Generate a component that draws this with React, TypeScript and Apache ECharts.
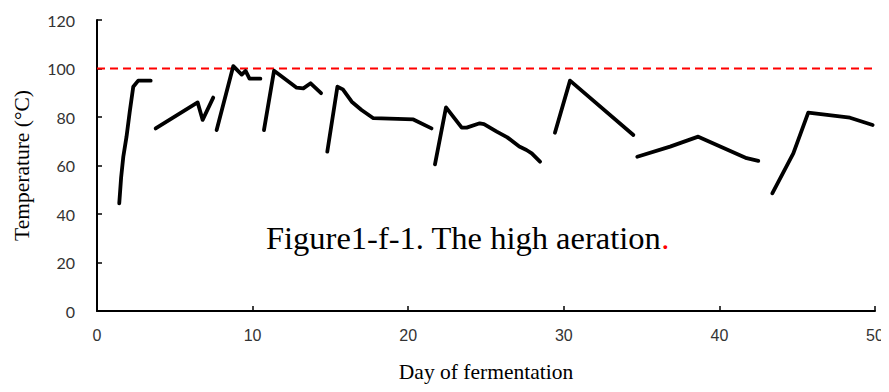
import React, { useEffect, useRef } from "react";
import * as echarts from "echarts";

const xTicks = [0, 10, 20, 30, 40, 50];
const yTicks = [0, 20, 40, 60, 80, 100, 120];
const limitTemp = 100;

const segment1 = [[1.43, 44.4], [1.55, 55], [1.69, 63.6], [1.9, 72], [2.1, 82], [2.33, 92.5], [2.65, 95], [3.45, 95]];
const segment2 = [[3.77, 75.3], [6.47, 86], [6.79, 78.8], [7.47, 88]];
const segment3 = [[7.69, 74.6], [8.76, 101], [9.3, 97.5], [9.55, 99], [9.8, 95.8], [10.5, 95.8]];
const segment4 = [[10.73, 74.6], [11.38, 99.1], [12.45, 93.9], [12.83, 92.1], [13.26, 91.8], [13.73, 93.9], [14.4, 89.8]];
const segment5 = [[14.8, 65.7], [15.45, 92.5], [15.8, 91.4], [16.37, 86.3], [17.0, 82.9], [17.76, 79.5], [20.33, 79.0], [21.5, 75.3]];
const segment6 = [[21.72, 60.5], [22.43, 84], [23.44, 75.6], [23.76, 75.6], [24.6, 77.4], [24.87, 77.1], [25.69, 74], [26.37, 71.6], [27.14, 67.8], [27.6, 66.4], [27.94, 65], [28.47, 61.6]];
const segment7 = [[29.43, 73.5], [30.4, 95], [34.47, 72.6]];
const segment8 = [[34.72, 63.6], [36.83, 67.8], [38.64, 71.9], [41.75, 63], [42.5, 61.9]];
const segment9 = [[43.4, 48.5], [44.75, 65], [45.71, 81.8], [48.39, 79.7], [49.85, 76.7]];

const segments = [segment1, segment2, segment3, segment4, segment5, segment6, segment7, segment8, segment9];
const limitLine = [[0, limitTemp], [50, limitTemp]];

export default function App() {
  const ref = useRef<HTMLDivElement>(null);
  useEffect(() => {
    if (!ref.current) return;
    const chart = echarts.init(ref.current, null, { renderer: "svg" });
    const series: any[] = segments.map((seg, i) => ({
      type: "line",
      name: "seg" + (i + 1),
      data: seg,
      showSymbol: false,
      symbol: "none",
      lineStyle: { color: "#000", width: 3.8, join: "round", cap: "round" },
      z: 3,
    }));
    series.push({
      type: "line",
      name: "limit",
      data: limitLine,
      symbol: "none",
      lineStyle: { color: "#ff0000", width: 2, type: [8, 5] },
      z: 2,
    });
    chart.setOption({
      animation: false,
      backgroundColor: "#fff",
      grid: { left: 97, top: 20, width: 778, height: 291, containLabel: false },
      xAxis: {
        type: "value",
        min: 0,
        max: 50,
        interval: 10,
        name: "Day of fermentation",
        nameLocation: "middle",
        nameGap: 50,
        nameTextStyle: { fontFamily: "Liberation Serif", fontSize: 21.5, color: "#000" },
        axisLine: { show: true, lineStyle: { color: "#000", width: 2 } },
        axisTick: { show: true, inside: true, length: 5, lineStyle: { color: "#000", width: 1.5 } },
        axisLabel: { margin: 16, fontFamily: "Liberation Sans Narrow, Liberation Sans", fontSize: 16, color: "#333" },
        splitLine: { show: false },
      },
      yAxis: {
        type: "value",
        min: 0,
        max: 120,
        interval: 20,
        name: "Temperature (°C)",
        nameLocation: "middle",
        nameGap: 64,
        nameTextStyle: { fontFamily: "Liberation Serif", fontSize: 21.5, color: "#000" },
        axisLine: { show: true, lineStyle: { color: "#000", width: 2 } },
        axisTick: { show: true, inside: true, length: 5, lineStyle: { color: "#000", width: 1.5 } },
        axisLabel: { margin: 22, fontFamily: "Lato", fontSize: 16, color: "#333" },
        splitLine: { show: false },
      },
      graphic: [
        {
          type: "text",
          left: 266,
          top: 221,
          style: {
            text: "{a|Figure1-f-1. The high aeration}{b|.}",
            rich: {
              a: { fontFamily: "Liberation Serif", fontSize: 32.5, fill: "#000" },
              b: { fontFamily: "Liberation Serif", fontSize: 32.5, fill: "#ff0000" },
            },
          },
        },
      ],
      series,
    });
    return () => chart.dispose();
  }, []);
  return <div ref={ref} style={{ width: 889, height: 392, margin: -8 }} />;
}
